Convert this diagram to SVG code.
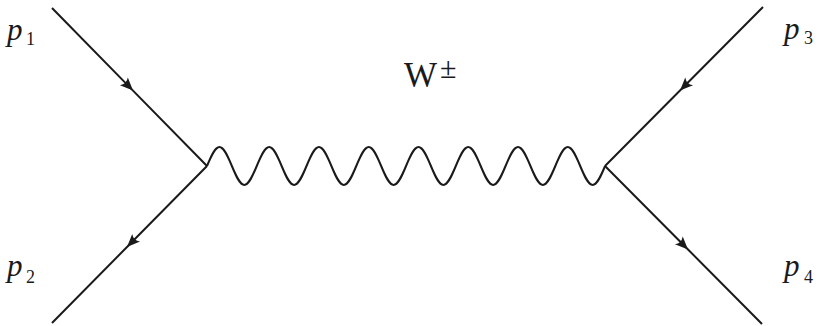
<svg xmlns="http://www.w3.org/2000/svg" width="822" height="326" viewBox="0 0 822 326">
  <style>
    .fermion { fill: none; stroke: #1a1a1a; stroke-width: 2; marker-mid: url(#arrow); }
    .boson { fill: none; stroke: #1a1a1a; stroke-width: 2; }
    .lbl { font-family: "Liberation Serif", "Times New Roman", serif; fill: #1a1a1a; }
    .p { font-style: italic; font-size: 31px; }
    .sub { font-size: 18px; }
  </style>
  <defs>
    <marker id="arrow" markerUnits="userSpaceOnUse" viewBox="-15 -8 17 16" markerWidth="17" markerHeight="16" refX="0" refY="0" orient="auto">
      <path d="M0,0 L-13,-5.5 Q-9,0 -13,5.5 Z" fill="#1a1a1a"/>
    </marker>
  </defs>
  <g id="connectors">
    <path id="line-p1" class="fermion" d="M52,8 L133,90.6 L207,166"/>
    <path id="line-p2" class="fermion" d="M207,166 L127,247 L52,323"/>
    <path id="line-p3" class="fermion" d="M763,7 L680,90.5 L605,166"/>
    <path id="line-p4" class="fermion" d="M605,166 L688,249.5 L762,324"/>
    <path id="w-boson" class="boson" d="M207,166
      c4.16,-9.98 7.96,-19 12.44,-19 c4.48,0 8.28,9.02 12.44,19 c4.16,9.98 7.96,19 12.44,19 c4.48,0 8.28,-9.02 12.44,-19
      c4.16,-9.98 7.96,-19 12.44,-19 c4.48,0 8.28,9.02 12.44,19 c4.16,9.98 7.96,19 12.44,19 c4.48,0 8.28,-9.02 12.44,-19
      c4.16,-9.98 7.96,-19 12.44,-19 c4.48,0 8.28,9.02 12.44,19 c4.16,9.98 7.96,19 12.44,19 c4.48,0 8.28,-9.02 12.44,-19
      c4.16,-9.98 7.96,-19 12.44,-19 c4.48,0 8.28,9.02 12.44,19 c4.16,9.98 7.96,19 12.44,19 c4.48,0 8.28,-9.02 12.44,-19
      c4.16,-9.98 7.96,-19 12.44,-19 c4.48,0 8.28,9.02 12.44,19 c4.16,9.98 7.96,19 12.44,19 c4.48,0 8.28,-9.02 12.44,-19
      c4.16,-9.98 7.96,-19 12.44,-19 c4.48,0 8.28,9.02 12.44,19 c4.16,9.98 7.96,19 12.44,19 c4.48,0 8.28,-9.02 12.44,-19
      c4.16,-9.98 7.96,-19 12.44,-19 c4.48,0 8.28,9.02 12.44,19 c4.16,9.98 7.96,19 12.44,19 c4.48,0 8.28,-9.02 12.44,-19
      c4.16,-9.98 7.96,-19 12.44,-19 c4.48,0 8.28,9.02 12.44,19 c4.16,9.98 7.96,19 12.44,19 c4.48,0 8.28,-9.02 12.44,-19"/>
  </g>
  <g id="label-p1">
    <text class="lbl p" x="7" y="40">p</text><text class="lbl sub" x="26" y="45">1</text>
  </g>
  <g id="label-p2">
    <text class="lbl p" x="7" y="276">p</text><text class="lbl sub" x="26" y="283">2</text>
  </g>
  <g id="label-p3">
    <text class="lbl p" x="784" y="39">p</text><text class="lbl sub" x="804" y="44">3</text>
  </g>
  <g id="label-p4">
    <text class="lbl p" x="784" y="276">p</text><text class="lbl sub" x="804" y="283">4</text>
  </g>
  <g id="label-w">
    <text class="lbl" x="404" y="87" font-size="35">W</text><text class="lbl" x="440" y="78" font-size="30">±</text>
  </g>
</svg>
